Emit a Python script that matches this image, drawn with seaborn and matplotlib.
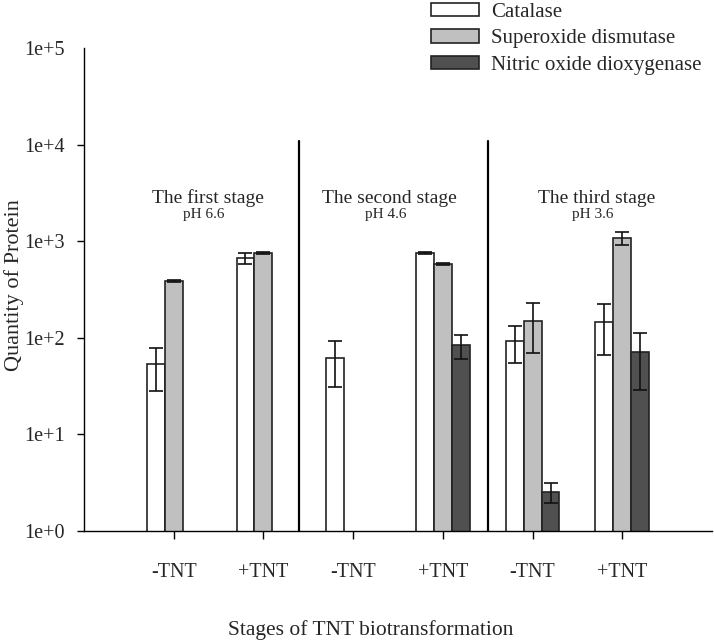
import numpy as np
import pandas as pd
import matplotlib
matplotlib.use("Agg")
import matplotlib.pyplot as plt
import matplotlib.ticker as mticker
import seaborn as sns

# ---- data ----
category_keys = ["S1-", "S1+", "S2-", "S2+", "S3-", "S3+"]
tick_labels = ["-TNT", "+TNT", "-TNT", "+TNT", "-TNT", "+TNT"]
enzymes = ["Catalase", "Superoxide dismutase", "Nitric oxide dioxygenase"]

catalase = [53, 670, 62, 755, 93, 145]
catalase_err = [25, 85, 31, 12, 38, 79]
sod = [387, 755, np.nan, 580, 149, 1076]
sod_err = [6, 12, np.nan, 17, 80, 170]
nod = [np.nan, np.nan, np.nan, 84, 2.53, 71]
nod_err = [np.nan, np.nan, np.nan, 23, 0.6, 42]

stage_titles = ["The first stage", "The second stage", "The third stage"]
stage_ph = ["pH 6.6", "pH 4.6", "pH 3.6"]
stage_label_x = [0.38, 2.4, 4.71]
separators_x = [1.4, 3.5]

colors = ["#ffffff", "#c0c0c0", "#505050"]

values = {"Catalase": catalase, "Superoxide dismutase": sod, "Nitric oxide dioxygenase": nod}
errors = {"Catalase": catalase_err, "Superoxide dismutase": sod_err, "Nitric oxide dioxygenase": nod_err}

rows = []
for enz in enzymes:
    for k, v in zip(category_keys, values[enz]):
        if not np.isnan(v):
            rows.append({"stage": k, "enzyme": enz, "value": v})
df = pd.DataFrame(rows)

sns.set_theme(style="ticks")
plt.rcParams["font.family"] = ["Liberation Serif", "DejaVu Serif"]

fig = plt.figure(figsize=(7.14, 6.44), dpi=100)
ax = fig.add_axes([84 / 714, 1 - 531 / 644, (712 - 84) / 714, (531 - 48) / 644])

sns.barplot(data=df, x="stage", y="value", hue="enzyme", order=category_keys,
            hue_order=enzymes, palette=colors, width=0.6, errorbar=None,
            edgecolor="#222222", linewidth=1.2, saturation=1, ax=ax)
ax.set_yscale("log")
ax.set_ylim(1, 1e5)
ax.set_xlim(-1, 6)

for cont, enz in zip(ax.containers, enzymes):
    for bar in cont:
        cx = bar.get_x() + bar.get_width() / 2
        h = bar.get_height()
        if not np.isfinite(h):
            continue
        idx = int(round(cx))
        e = errors[enz][idx]
        if np.isnan(e):
            continue
        ax.errorbar(cx, h, yerr=e, fmt="none", ecolor="#111111",
                    elinewidth=1.2, capsize=5, capthick=1.2, zorder=5)

for sx in separators_x:
    ax.plot([sx, sx], [1, 1.1e4], color="black", lw=1.6, zorder=6, clip_on=False)

trans = ax.get_xaxis_transform()
for x, t, p in zip(stage_label_x, stage_titles, stage_ph):
    ax.text(x, 0.689, t, transform=trans, ha="center", va="center", fontsize=14)
    ax.text(x - 0.04, 0.655, p, transform=trans, ha="center", va="center", fontsize=11)

ax.set_xticks(range(len(category_keys)))
ax.set_xticklabels(tick_labels, fontsize=14.5)
ax.tick_params(axis="x", length=6, width=1, pad=17, color="black")
ax.set_yticks([1, 10, 100, 1e3, 1e4, 1e5])
ax.yaxis.set_major_formatter(mticker.FixedFormatter(["1e+0", "1e+1", "1e+2", "1e+3", "1e+4", "1e+5"]))
ax.yaxis.set_minor_locator(mticker.NullLocator())
ax.tick_params(axis="y", length=5, width=1, pad=9, labelsize=14.5, color="black")
ax.yaxis.get_major_ticks()[-1].tick1line.set_visible(False)

for s in ["top", "right"]:
    ax.spines[s].set_visible(False)
for s in ["left", "bottom"]:
    ax.spines[s].set_color("black")
    ax.spines[s].set_linewidth(1.0)

ax.set_ylabel("Quantity of Protein", fontsize=16)
ax.yaxis.set_label_coords(-0.095, 0.51)
ax.set_xlabel("Stages of TNT biotransformation", fontsize=15.5)
ax.xaxis.set_label_coords(0.457, -0.185)

handles, labels = ax.get_legend_handles_labels()
ax.legend(handles, labels, loc="upper left", bbox_to_anchor=(430 / 714, 1 - 2 / 644),
          bbox_transform=fig.transFigure, frameon=False, fontsize=15,
          handlelength=2.3, handleheight=0.6, handletextpad=0.6,
          labelspacing=0.35, borderpad=0.05, borderaxespad=0)

fig.savefig("out.png", dpi=100)
